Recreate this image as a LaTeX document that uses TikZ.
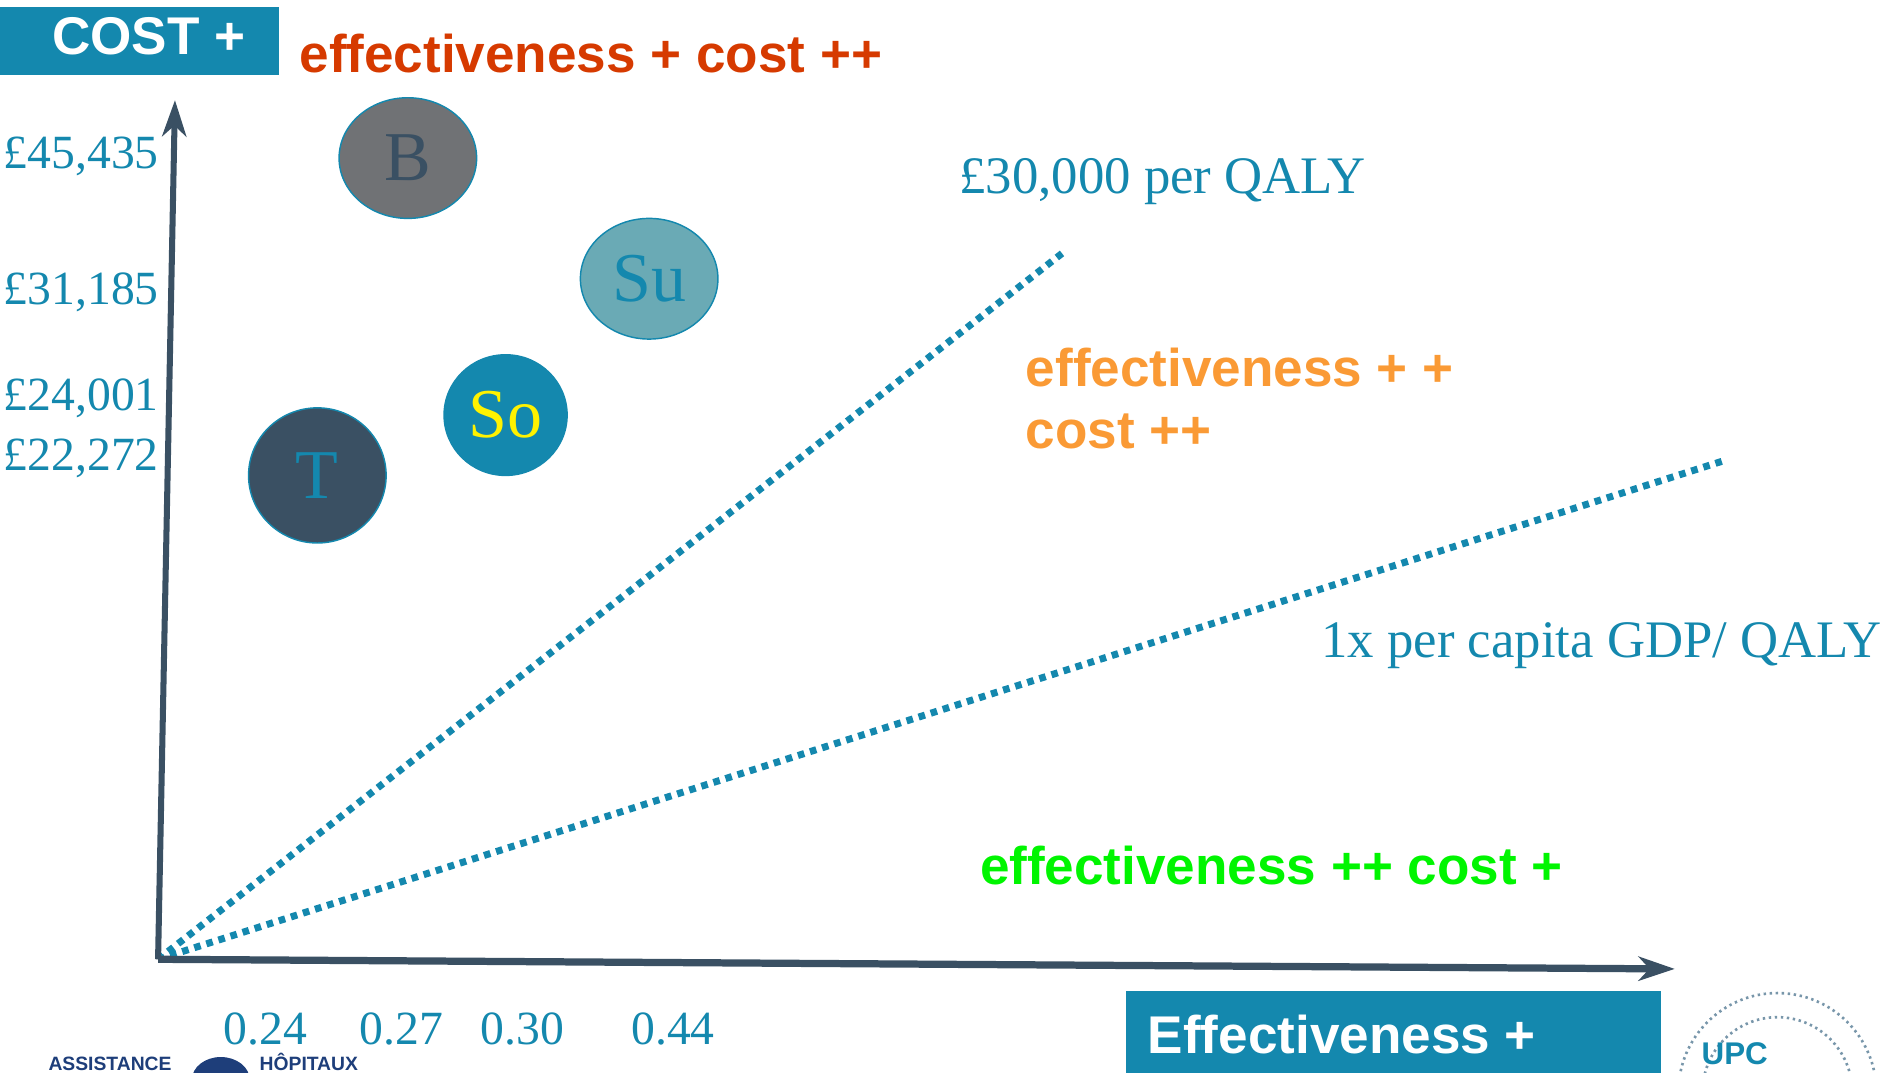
\documentclass[tikz,border=0pt]{standalone}
\usepackage{fontspec}
\setmainfont{Liberation Serif}
\setsansfont{Liberation Sans}
\usetikzlibrary{arrows.meta,shapes.geometric}
\definecolor{tealA}{RGB}{20,136,174}
\definecolor{slateA}{RGB}{58,80,99}
\definecolor{grayB}{RGB}{112,114,117}
\definecolor{tealSu}{RGB}{106,170,181}
\definecolor{redA}{RGB}{214,58,0}
\definecolor{orangeA}{RGB}{250,154,53}
\definecolor{greenA}{RGB}{0,245,0}
\definecolor{navyA}{RGB}{30,62,122}
\definecolor{upcgray}{RGB}{120,150,170}
\begin{document}
\begin{tikzpicture}[x=1pt,y=-1pt,
  tealbox/.style={fill=tealA, draw=none, inner sep=0pt, anchor=north west},
  boxtext/.style={text=white, font=\sffamily\bfseries\fontsize{44}{50}\selectfont, inner sep=0pt, anchor=base west},
  quadtext/.style={font=\sffamily\bfseries\fontsize{44}{52}\selectfont, inner sep=0pt, anchor=base west},
  axislabel/.style={text=tealA, font=\fontsize{39.5}{44}\selectfont, inner sep=0pt, anchor=base west},
  thrlabel/.style={text=tealA, font=\fontsize{43.7}{48}\selectfont, inner sep=0pt, anchor=base west},
  bubble/.style={ellipse, draw=tealA, line width=1.2pt, inner sep=0pt, font=\fontsize{58}{60}\selectfont},
  axisline/.style={draw=slateA, line width=5pt, -{Stealth[length=30pt,width=20pt,inset=9pt]}},
  threshold/.style={draw=tealA, line width=5.8pt, dash pattern=on 5.5pt off 5pt},
  logotext/.style={inner sep=0pt, anchor=base west, text=navyA, font=\sffamily\bfseries\fontsize{16}{18}\selectfont}
]
\useasboundingbox (0,0) rectangle (1568,889);
\clip (0,0) rectangle (1568,889);

% header boxes
\node[tealbox, minimum width=231pt, minimum height=56pt] (costbox) at (0,6) {};
\node[boxtext] (costtext) at (43,45) {COST +};
\node[quadtext, text=redA] (qtop) at (248,60) {effectiveness + cost ++};

% axes
\coordinate (O) at (131,795);
\coordinate (ytip) at (145,83);
\coordinate (xtip) at (1388,803);
\coordinate (t1) at (884,207);
\coordinate (t2) at (1428,382);

% thresholds
\draw[threshold] (O) -- (t1);
\draw[threshold] (O) -- (t2);

\draw[axisline] (O) -- (ytip);
\draw[axisline, line width=6pt] (O) -- (xtip);

% cost labels
\node[axislabel] (c1) at (3,140) {£45,435};
\node[axislabel] (c2) at (3,252) {£31,185};
\node[axislabel] (c3) at (3,340) {£24,001};
\node[axislabel] (c4) at (3,390) {£22,272};

% effectiveness labels
\node[axislabel] (e1) at (185,866) {0.24};
\node[axislabel] (e2) at (298,866) {0.27};
\node[axislabel] (e3) at (398,866) {0.30};
\node[axislabel] (e4) at (523,866) {0.44};

% bubbles
\node[bubble, fill=grayB, text=slateA, minimum width=114pt, minimum height=100pt] (B) at (338,131) {B};
\node[bubble, fill=tealSu, text=tealA, minimum width=114pt, minimum height=100pt] (Su) at (538,231) {Su};
\node[bubble, fill=tealA, text=yellow, minimum width=102pt, minimum height=100pt] (So) at (419,344) {So};
\node[bubble, fill=slateA, text=tealA, minimum width=114pt, minimum height=112pt] (T) at (263,394) {T};

% threshold labels
\node[thrlabel] (l30k) at (795,160) {£30,000 per QALY};
\node[thrlabel] (lgdp) at (1095,545) {1x per capita GDP/ QALY};

% quadrant labels
\node[quadtext, text=orangeA] (qmid1) at (850,320) {effectiveness + +};
\node[quadtext, text=orangeA] (qmid2) at (850,372) {cost ++};
\node[quadtext, text=greenA] (qlow) at (812,733) {effectiveness ++ cost +};

% effectiveness box
\node[tealbox, minimum width=443pt, minimum height=70pt] (effbox) at (933,821) {};
\node[boxtext] (efftext) at (951,873) {Effectiveness +};

% bottom-left logo
\node[logotext] (aph1) at (40,887) {ASSISTANCE};
\node[ellipse, fill=navyA, minimum width=48pt, minimum height=38pt, inner sep=0pt] (aphlogo) at (183,895) {};
\node[logotext] (aph2) at (215,887) {HÔPITAUX};

% bottom-right logo
\coordinate (upcc) at (1473,905);
\draw[upcgray, line width=2.2pt, dash pattern=on 2pt off 3pt] (upcc) circle[radius=82];
\draw[upcgray, line width=2.2pt, dash pattern=on 2pt off 3pt] (upcc) circle[radius=62];
\node[inner sep=0pt, anchor=base west, text=tealA, font=\sffamily\bfseries\fontsize{26}{28}\selectfont] (upc) at (1410,882) {UPC};
\end{tikzpicture}
\end{document}
